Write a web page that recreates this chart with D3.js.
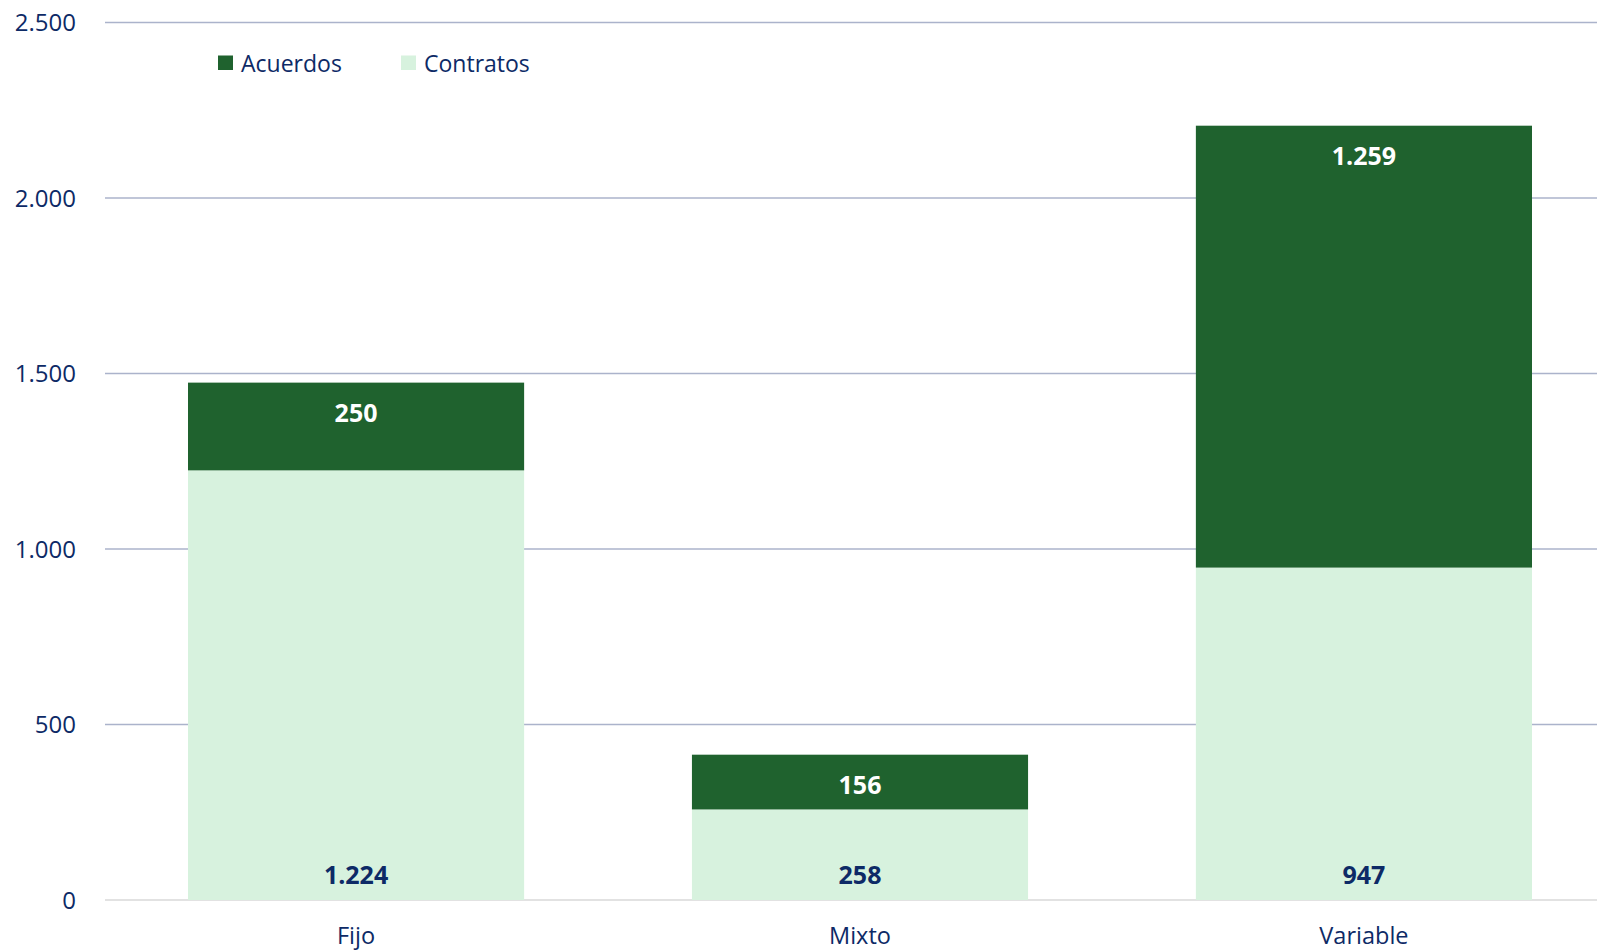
<!DOCTYPE html>
<html>
<head>
<meta charset="utf-8">
<script src="https://cdn.jsdelivr.net/npm/d3@7"></script>
<style>
  body { margin: 0; background: #fff; }
  svg text { font-family: "Open Sans", "Noto Sans", sans-serif; }
</style>
</head>
<body>
<svg id="chart" width="1597" height="952"></svg>
<script>
// data
const categories = ["Fijo", "Mixto", "Variable"];
const contratos = [1224, 258, 947];
const acuerdos = [250, 156, 1259];
const seriesNames = ["Acuerdos", "Contratos"];
const yTicks = [0, 500, 1000, 1500, 2000, 2500];

const colors = { Acuerdos: "#1F622E", Contratos: "#D7F2DE" };
const navy = "#0D2A66";

let svg = d3.select("#chart");

let rows = categories.map((c, i) => ({ cat: c, Contratos: contratos[i], Acuerdos: acuerdos[i] }));

let x = d3.scaleBand()
    .domain(categories)
    .range([104, 1616])
    .paddingInner(0.333)
    .paddingOuter(0.1667);

let y = d3.scaleLinear()
    .domain([0, 2500])
    .range([900, 22.5]);

let fmt = d3.formatLocale({ decimal: ",", thousands: ".", grouping: [3], currency: ["", "€"] }).format(",d");

// gridlines
svg.append("g").selectAll("line")
    .data(yTicks)
    .enter().append("line")
    .attr("x1", 105).attr("x2", 1597)
    .attr("y1", d => y(d)).attr("y2", d => y(d))
    .attr("stroke", d => d === 0 ? "#D9D9D9" : "#ABB3CB")
    .attr("stroke-width", 1.3);

// y labels
svg.append("g").selectAll("text")
    .data(yTicks)
    .enter().append("text")
    .attr("x", 76)
    .attr("y", d => y(d))
    .attr("dy", "0.36em")
    .attr("text-anchor", "end")
    .attr("font-size", 24)
    .attr("fill", navy)
    .text(d => fmt(d));

// stacked bars
let stack = d3.stack().keys(["Contratos", "Acuerdos"]);
let layers = stack(rows);

let layer = svg.append("g").selectAll("g")
    .data(layers)
    .enter().append("g")
    .attr("fill", d => colors[d.key]);

layer.selectAll("rect")
    .data(d => d)
    .enter().append("rect")
    .attr("x", d => x(d.data.cat))
    .attr("width", x.bandwidth())
    .attr("y", d => y(d[1]))
    .attr("height", d => y(d[0]) - y(d[1]));

// value labels
layers.forEach(function(l) {
    svg.append("g").selectAll("text")
        .data(l)
        .enter().append("text")
        .attr("x", d => x(d.data.cat) + x.bandwidth() / 2)
        .attr("y", d => l.key === "Acuerdos" ? y(d[1]) + 39 : y(d[0]) - 16)
        .attr("text-anchor", "middle")
        .attr("font-size", 25)
        .attr("font-weight", "bold")
        .attr("fill", l.key === "Acuerdos" ? "#FFFFFF" : navy)
        .text(d => fmt(d.data[l.key]));
});

// x labels
svg.append("g").selectAll("text")
    .data(categories)
    .enter().append("text")
    .attr("x", d => x(d) + x.bandwidth() / 2)
    .attr("y", 944)
    .attr("text-anchor", "middle")
    .attr("font-size", 23.5)
    .attr("fill", navy)
    .text(d => d);

// legend
let legend = svg.append("g").selectAll("g")
    .data(seriesNames)
    .enter().append("g")
    .attr("transform", (d, i) => "translate(" + (218 + i * 183) + ",55.5)");

legend.append("rect")
    .attr("width", 15).attr("height", 14.5)
    .attr("fill", d => colors[d]);

legend.append("text")
    .attr("x", 23).attr("y", 16.5)
    .attr("font-size", 23)
    .attr("fill", navy)
    .text(d => d);
</script>
</body>
</html>
